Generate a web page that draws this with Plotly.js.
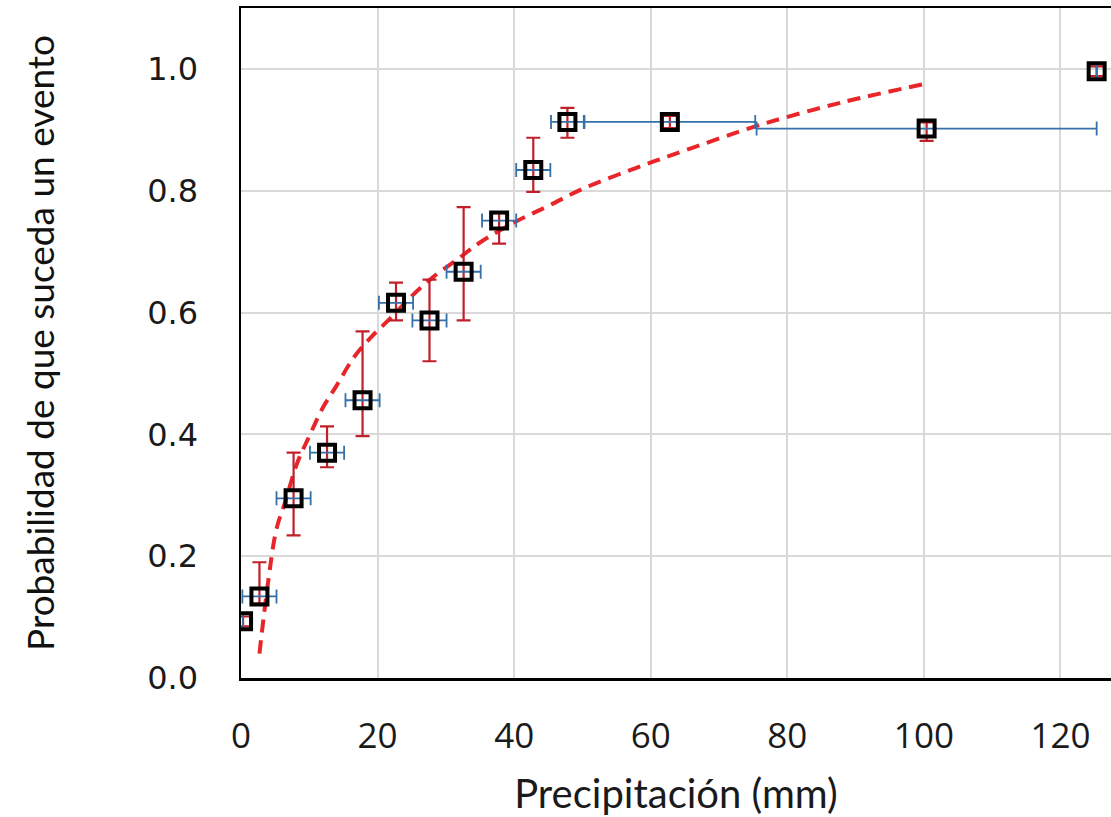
<!DOCTYPE html>
<html>
<head>
<meta charset="utf-8">
<script src="https://cdn.plot.ly/plotly-3.0.1.min.js"></script>
<style>html,body{margin:0;padding:0;background:#fff;overflow:hidden;}</style>
</head>
<body>
<div id="chart" style="width:1111px;height:817px;"></div>
<script>
// Observed points (precipitation, probability)
const precip = [0.3, 2.7, 7.7, 12.6, 17.8, 22.7, 27.6, 32.6, 37.8, 42.8, 47.8, 62.8, 100.4, 125.3];
const prob   = [0.093, 0.134, 0.295, 0.370, 0.456, 0.616, 0.587, 0.667, 0.751, 0.834, 0.913, 0.913, 0.902, 0.996];
// Error bars
const probErrPlus  = [0.008, 0.056, 0.075, 0.043, 0.113, 0.033, 0.067, 0.106, 0.012, 0.053, 0.023, 0.010, 0.010, 0.008];
const probErrMinus = [0.008, 0.012, 0.061, 0.024, 0.059, 0.029, 0.067, 0.080, 0.038, 0.036, 0.026, 0.010, 0.020, 0.008];
const precipErr    = [0, 2.5, 2.5, 2.5, 2.5, 2.5, 2.5, 2.5, 2.5, 2.5, 2.4, 12.5, 24.9, 0];
// Dashed trend curve
const trendX = [2.7, 4, 5.2, 6.5, 8.2, 10, 12, 14, 16.5, 19, 22, 25, 28, 32, 35, 40, 45, 50, 58, 66, 76, 88, 100];
const trendY = [0.040, 0.160, 0.245, 0.290, 0.352, 0.397, 0.444, 0.480, 0.526, 0.559, 0.592, 0.627, 0.657, 0.690, 0.715, 0.748, 0.775, 0.803, 0.838, 0.870, 0.908, 0.945, 0.975];
const xTicks = [0, 20, 40, 60, 80, 100, 120];
const yTicks = [0, 0.2, 0.4, 0.6, 0.8, 1.0];
const yTickText = ["0.0", "0.2", "0.4", "0.6", "0.8", "1.0"];

const trend = {
  x: trendX, y: trendY, type: 'scatter', mode: 'lines',
  line: {color: '#e8262a', width: 4, dash: '13px,8px', shape: 'spline'},
  hoverinfo: 'skip', showlegend: false
};
const data = {
  x: precip, y: prob, type: 'scatter', mode: 'markers',
  marker: {symbol: 'square-open', size: 16, color: '#000000', line: {width: 4, color: '#000000'}},
  error_y: {type: 'data', symmetric: false, array: probErrPlus, arrayminus: probErrMinus,
            color: '#c0202a', thickness: 2.2, width: 7},
  error_x: {type: 'data', array: precipErr, color: '#3570a8', thickness: 1.8, width: 7},
  showlegend: false
};

const layout = {
  width: 1111, height: 817,
  margin: {l: 241, r: 0, t: 8, b: 139},
  paper_bgcolor: '#ffffff', plot_bgcolor: '#ffffff',
  showlegend: false,
  xaxis: {
    range: [0, 127.4], tickvals: xTicks, ticktext: xTicks.map(String),
    showgrid: true, gridcolor: '#d9d9d9', gridwidth: 2,
    showline: true, linecolor: '#000000', linewidth: 2.5, mirror: true,
    zeroline: false, ticks: '', ticklabelstandoff: 25,
    tickfont: {family: 'Open Sans, sans-serif', size: 35, color: '#1a1a1a'},
    title: {text: 'Precipitación (mm)', standoff: 33,
            font: {family: 'Lato, sans-serif', size: 40, color: '#1a1a1a'}}
  },
  yaxis: {
    range: [0, 1.1], tickvals: yTicks, ticktext: yTickText,
    showgrid: true, gridcolor: '#d9d9d9', gridwidth: 2,
    showline: true, linecolor: '#000000', linewidth: 2.5, mirror: false,
    zeroline: false, ticks: '', ticklabelstandoff: 34,
    tickfont: {family: 'DejaVu Sans, sans-serif', size: 32, color: '#1a1a1a'},
    title: {text: 'Probabilidad de que suceda un evento', standoff: 82,
            font: {family: 'Lato, sans-serif', size: 37, color: '#111111'}}
  }
};

Plotly.newPlot('chart', [trend, data], layout, {displayModeBar: false, staticPlot: true});
</script>
</body>
</html>
